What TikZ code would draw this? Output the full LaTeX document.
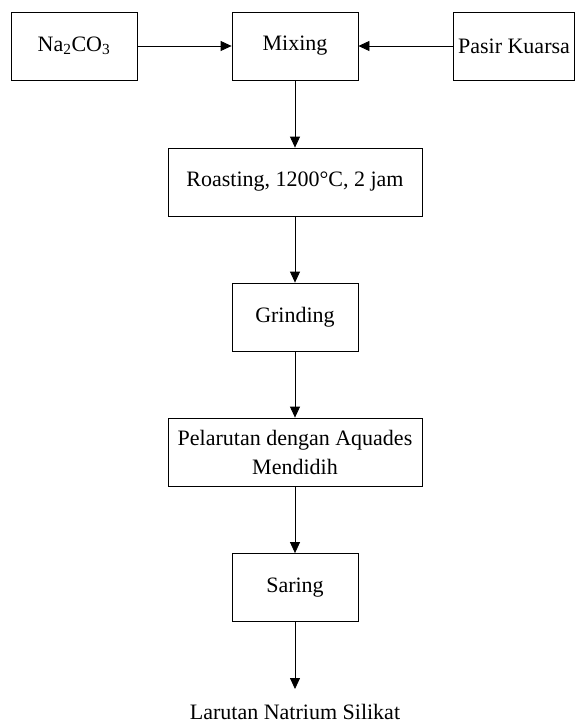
\documentclass[tikz,border=0pt]{standalone}
\usepackage{fontspec}
\setmainfont{Liberation Serif}
\usetikzlibrary{arrows.meta}

\begin{document}
\begin{tikzpicture}[x=1pt,y=-1pt,line width=0.8pt,
    every node/.style={font=\fontsize{22}{29}\selectfont},
    box/.style={draw,rectangle,minimum width=126pt,minimum height=68pt,inner sep=0pt,align=center},
    widebox/.style={box,minimum width=254pt},
    flow/.style={-{Triangle[length=11pt,width=10pt]}}]
    \useasboundingbox (0,0) rectangle (575,726);
    % nodes
    \node[box] (na) at (74,46) {Na\textsubscript{2}CO\textsubscript{3}};
    \node[box] (mix) at (295,46) {Mixing};
    \node[box,minimum width=121pt] (pasir) at (514,46) {Pasir Kuarsa};

    \node[widebox] (roast) at (295,182) {Roasting, 1200\textdegree C, 2 jam};
    \node[box] (grind) at (295,317) {Grinding};
    \node[widebox] (larut) at (295,452) {Pelarutan dengan Aquades\\Mendidih};
    \node[box] (saring) at (295,587.5) {Saring};

    \coordinate (tip) at (295,689);
    \node (produk) at (295,712) {Larutan Natrium Silikat};

    % edges
    \draw[flow] (na) -- (mix);
    \draw[flow] (pasir) -- (mix);
    \draw[flow] (mix) -- (roast);
    \draw[flow] (roast) -- (grind);
    \draw[flow] (grind) -- (larut);
    \draw[flow] (larut) -- (saring);
    \draw[flow] (saring) -- (tip);
\end{tikzpicture}
\end{document}
